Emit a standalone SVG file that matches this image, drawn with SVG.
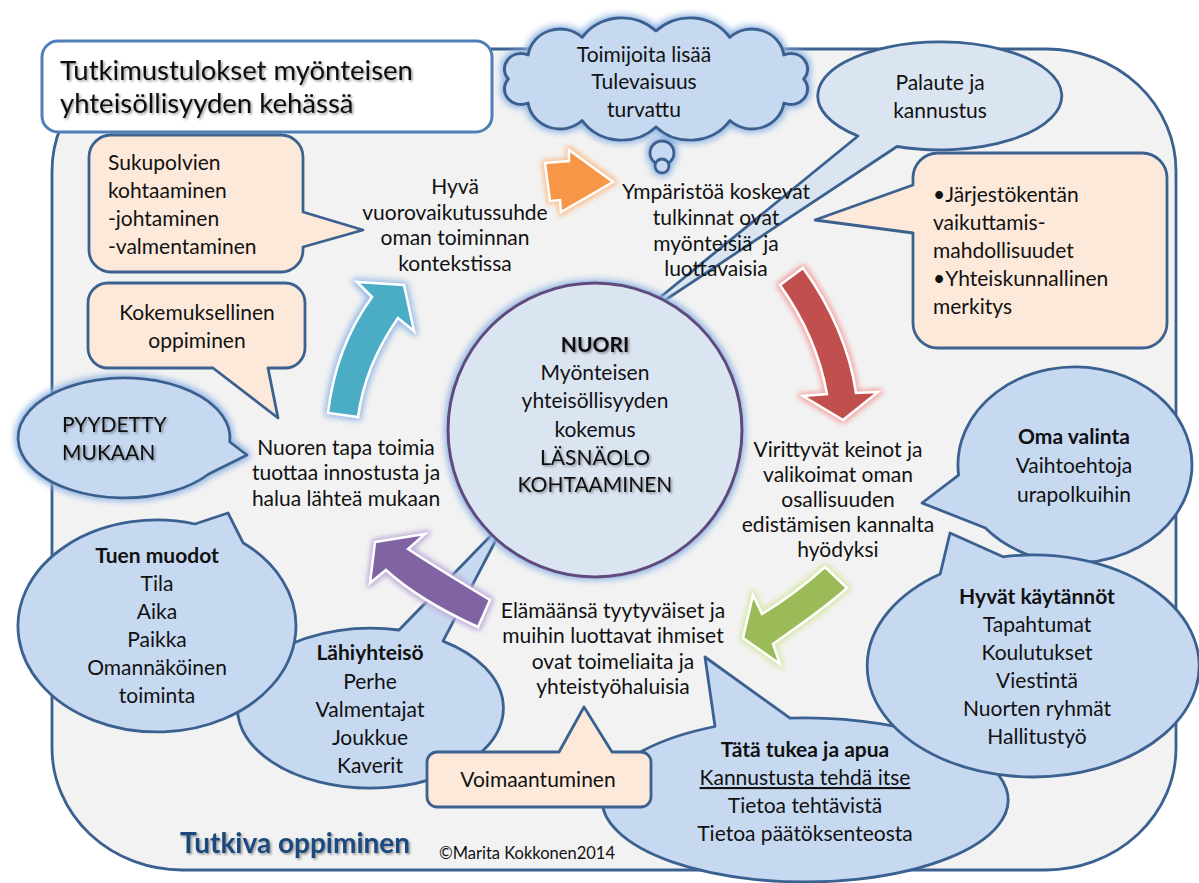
<svg xmlns="http://www.w3.org/2000/svg" width="1199" height="883" viewBox="0 0 1199 883">
<defs>
<style>
.t{font-family:Lato,"Open Sans","Liberation Sans",sans-serif;font-size:21px;fill:#111}
.c{text-anchor:middle}
.b{font-weight:bold}
.ol{stroke:#3b6190;stroke-width:2.8;stroke-linejoin:round}
.peach{fill:#fde9d9}
.blue{fill:#c6d9f1}
.pale{fill:#dbe5f1}
.arr{stroke:#fff;stroke-width:2.5;stroke-linejoin:miter}
</style>
<filter id="gBlue" x="-20%" y="-20%" width="140%" height="140%">
<feMorphology in="SourceAlpha" operator="dilate" radius="2" result="d"/>
<feGaussianBlur in="d" stdDeviation="3" result="bl"/>
<feFlood flood-color="#8db3e2" flood-opacity="0.95"/>
<feComposite in2="bl" operator="in" result="g"/>
<feMerge><feMergeNode in="g"/><feMergeNode in="SourceGraphic"/></feMerge>
</filter>
<filter id="gOrange" x="-30%" y="-30%" width="160%" height="160%">
<feMorphology in="SourceAlpha" operator="dilate" radius="2" result="d"/>
<feGaussianBlur in="d" stdDeviation="2.5" result="bl"/>
<feFlood flood-color="#fac090"/>
<feComposite in2="bl" operator="in" result="g"/>
<feMerge><feMergeNode in="g"/><feMergeNode in="SourceGraphic"/></feMerge>
</filter>
<filter id="gRed" x="-30%" y="-30%" width="160%" height="160%">
<feMorphology in="SourceAlpha" operator="dilate" radius="2" result="d"/>
<feGaussianBlur in="d" stdDeviation="2.5" result="bl"/>
<feFlood flood-color="#f2a8a6"/>
<feComposite in2="bl" operator="in" result="g"/>
<feMerge><feMergeNode in="g"/><feMergeNode in="SourceGraphic"/></feMerge>
</filter>
<filter id="gPurple" x="-30%" y="-30%" width="160%" height="160%">
<feMorphology in="SourceAlpha" operator="dilate" radius="2" result="d"/>
<feGaussianBlur in="d" stdDeviation="2.5" result="bl"/>
<feFlood flood-color="#c0aedb"/>
<feComposite in2="bl" operator="in" result="g"/>
<feMerge><feMergeNode in="g"/><feMergeNode in="SourceGraphic"/></feMerge>
</filter>
<filter id="gGreen" x="-30%" y="-30%" width="160%" height="160%">
<feMorphology in="SourceAlpha" operator="dilate" radius="2" result="d"/>
<feGaussianBlur in="d" stdDeviation="2.5" result="bl"/>
<feFlood flood-color="#d7e8a8"/>
<feComposite in2="bl" operator="in" result="g"/>
<feMerge><feMergeNode in="g"/><feMergeNode in="SourceGraphic"/></feMerge>
</filter>
<filter id="sh" x="-10%" y="-30%" width="120%" height="160%">
<feDropShadow dx="1.5" dy="1.5" stdDeviation="1" flood-color="#000" flood-opacity="0.4"/>
</filter>
</defs>

<rect width="1199" height="883" fill="#fff"/>

<g id="background">
<rect x="52" y="49" width="1124" height="821" rx="130" ry="122" fill="#f2f2f2" class="ol"/>
</g>

<g id="title">
<rect x="42" y="41" width="450" height="91" rx="16" fill="#fff" stroke="#4f7fb8" stroke-width="3"/>
<text class="t" style="font-size:27.5px" filter="url(#sh)"><tspan x="60" y="80">Tutkimustulokset myönteisen</tspan><tspan x="60" y="113">yhteisöllisyyden kehässä</tspan></text>
</g>

<g id="palaute">
<path class="ol pale" d="M858,136 L620,330 L897,146.5 A122,54 0 1 0 858,136 Z"/>
<text class="t c"><tspan x="940" y="90">Palaute ja</tspan><tspan x="940" y="118">kannustus</tspan></text>
</g>

<g id="cloud" filter="url(#gBlue)">
<path class="ol blue" transform="translate(656,0) scale(1.07,1) translate(-656,0)" d="M518,79 A15.5,15.5 0 0 1 536.5,55 A30,30 0 0 1 587,37.4 A45,45 0 0 1 656,31 A45,45 0 0 1 725,37.4 A30,30 0 0 1 775.5,55 A15.5,15.5 0 0 1 794,79 A15.5,15.5 0 0 1 775.5,103 A30,30 0 0 1 725,120.6 A45,45 0 0 1 656,127 A45,45 0 0 1 587,120.6 A30,30 0 0 1 536.5,103 A15.5,15.5 0 0 1 518,79 Z"/>
<circle class="ol blue" cx="662" cy="153" r="12"/>
<circle class="ol blue" cx="662" cy="166" r="7"/>
</g>
<g id="cloud-text">
<text class="t c"><tspan x="644" y="62">Toimijoita lisää</tspan><tspan x="644" y="89">Tulevaisuus</tspan><tspan x="644" y="117">turvattu</tspan></text>
</g>

<g id="jarjesto">
<path class="ol peach" d="M938,153 H1142 A25,25 0 0 1 1167,178 V323 A25,25 0 0 1 1142,348 H938 A25,25 0 0 1 913,323 V233 L815,220 L913,185 V178 A25,25 0 0 1 938,153 Z"/>
<text class="t"><tspan x="933" y="202">•Järjestökentän</tspan><tspan x="933" y="230">vaikuttamis-</tspan><tspan x="933" y="258">mahdollisuudet</tspan><tspan x="933" y="286">•Yhteiskunnallinen</tspan><tspan x="933" y="314">merkitys</tspan></text>
</g>

<g id="sukupolvien">
<path class="ol peach" d="M111,135 H281 A22,22 0 0 1 303,157 V212 L363,230 L303,247 V250 A22,22 0 0 1 281,272 H111 A22,22 0 0 1 89,250 V157 A22,22 0 0 1 111,135 Z"/>
<text class="t"><tspan x="108" y="170">Sukupolvien</tspan><tspan x="108" y="198">kohtaaminen</tspan><tspan x="108" y="226">-johtaminen</tspan><tspan x="108" y="254">-valmentaminen</tspan></text>
</g>

<g id="kokemuksellinen">
<path class="ol peach" d="M108,283 H285 A20,20 0 0 1 305,303 V348 A20,20 0 0 1 285,368 H268 L278,418 L213,368 H108 A20,20 0 0 1 88,348 V303 A20,20 0 0 1 108,283 Z"/>
<text class="t c"><tspan x="197" y="320">Kokemuksellinen</tspan><tspan x="197" y="348">oppiminen</tspan></text>
</g>

<g id="pyydetty">
<path class="ol blue" filter="url(#gBlue)" d="M229.8,442 L247,455 L208.8,474 A106,60 0 1 1 229.8,442 Z"/>
<text class="t" filter="url(#sh)"><tspan x="62" y="432">PYYDETTY</tspan><tspan x="62" y="460">MUKAAN</tspan></text>
</g>

<g id="lahiyhteiso">
<path class="ol blue" d="M399,630 L507,519 L443,641.1 A133,80 0 1 1 399,630 Z"/>
<text class="t c"><tspan x="370" y="660" class="b">Lähiyhteisö</tspan><tspan x="370" y="689">Perhe</tspan><tspan x="370" y="717">Valmentajat</tspan><tspan x="370" y="745">Joukkue</tspan><tspan x="370" y="773">Kaverit</tspan></text>
</g>

<g id="tuen-muodot">
<path class="ol blue" d="M195,524 L228,513 L243,542.7 A139,106 0 1 1 195,524 Z"/>
<text class="t c"><tspan x="157" y="563" class="b">Tuen muodot</tspan><tspan x="157" y="591">Tila</tspan><tspan x="157" y="619">Aika</tspan><tspan x="157" y="647">Paikka</tspan><tspan x="157" y="675">Omannäköinen</tspan><tspan x="157" y="703">toiminta</tspan></text>
</g>

<g id="nuori">
<circle cx="595" cy="430" r="147" fill="#dbe5f1" stroke="#604a7b" stroke-width="3" filter="url(#gBlue)"/>
<text class="t c"><tspan x="595" y="352" class="b" filter="url(#sh)">NUORI</tspan><tspan x="595" y="380">Myönteisen</tspan><tspan x="595" y="408">yhteisöllisyyden</tspan><tspan x="595" y="437">kokemus</tspan></text>
<text class="t c" filter="url(#sh)"><tspan x="595" y="465">LÄSNÄOLO</tspan><tspan x="595" y="492">KOHTAAMINEN</tspan></text>
</g>

<g id="oma-valinta">
<path class="ol blue" d="M958.6,475.2 L922,503 L985.4,528 A117,98 0 1 0 958.6,475.2 Z"/>
<text class="t c"><tspan x="1074" y="444" class="b">Oma valinta</tspan><tspan x="1074" y="473">Vaihtoehtoja</tspan><tspan x="1074" y="502">urapolkuihin</tspan></text>
</g>

<g id="tata-tukea">
<path class="ol blue" d="M715,726.5 L705,657 L790,718.2 A203,82 0 1 1 715,726.5 Z"/>
<text class="t c"><tspan x="805" y="757" class="b">Tätä tukea ja apua</tspan><tspan x="805" y="785" text-decoration="underline">Kannustusta tehdä itse</tspan><tspan x="805" y="813">Tietoa tehtävistä</tspan><tspan x="805" y="841">Tietoa päätöksenteosta</tspan></text>
</g>

<g id="hyvat-kaytannot">
<path class="ol blue" d="M940.2,574 L950,533 L1003,556.8 A166,111 0 1 1 940.2,574 Z"/>
<text class="t c"><tspan x="1037" y="604" class="b">Hyvät käytännöt</tspan><tspan x="1037" y="632">Tapahtumat</tspan><tspan x="1037" y="660">Koulutukset</tspan><tspan x="1037" y="688">Viestintä</tspan><tspan x="1037" y="716">Nuorten ryhmät</tspan><tspan x="1037" y="744">Hallitustyö</tspan></text>
</g>

<g id="voimaantuminen">
<path class="ol peach" d="M437,752 H559 L584,707 L612,752 H641 A10,10 0 0 1 651,762 V797 A10,10 0 0 1 641,807 H437 A10,10 0 0 1 427,797 V762 A10,10 0 0 1 437,752 Z"/>
<text class="t c" x="538" y="787">Voimaantuminen</text>
</g>

<g id="connectors">
<path class="arr" fill="#f79646" filter="url(#gOrange)" d="M545,163 L569,161 L569,150 L613,182 L561,212 L560,200 L550,201 Z"/>
<path class="arr" fill="#c0504d" filter="url(#gRed)" d="M780,285 L803,268 C830,305 850,350 856,393 L878,392 L843,420 L803,396 L827,394 C820,355 805,320 780,285 Z"/>
<path class="arr" fill="#9bbb59" filter="url(#gGreen)" d="M825,567 L847,588 C820,612 795,628 773,644 L780,664 L743,638 L753,595 L762,614 C785,600 805,585 825,567 Z"/>
<path class="arr" fill="#8064a2" filter="url(#gPurple)" d="M375,542 L425,534 L408,549 C440,570 465,585 490,600 L478,627 C445,612 410,592 386,570 L370,583 Z"/>
<path class="arr" fill="#4bacc6" filter="url(#gBlue)" d="M328,413 C333,370 348,330 372,297 L357,282 L404,285 L414,331 L398,318 C377,348 363,380 358,417 Z"/>
</g>

<g id="labels">
<text class="t c"><tspan x="455" y="194">Hyvä</tspan><tspan x="455" y="220">vuorovaikutussuhde</tspan><tspan x="455" y="245">oman toiminnan</tspan><tspan x="455" y="271">kontekstissa</tspan></text>
<text class="t c"><tspan x="716" y="199">Ympäristöä koskevat</tspan><tspan x="716" y="225">tulkinnat ovat</tspan><tspan x="716" y="251">myönteisiä&#160; ja</tspan><tspan x="716" y="276">luottavaisia</tspan></text>
<text class="t c"><tspan x="838" y="457">Virittyvät keinot ja</tspan><tspan x="838" y="482">valikoimat oman</tspan><tspan x="838" y="507">osallisuuden</tspan><tspan x="838" y="532">edistämisen kannalta</tspan><tspan x="838" y="557">hyödyksi</tspan></text>
<text class="t c"><tspan x="613" y="618">Elämäänsä tyytyväiset ja</tspan><tspan x="613" y="643">muihin luottavat ihmiset</tspan><tspan x="613" y="669">ovat toimeliaita ja</tspan><tspan x="613" y="694">yhteistyöhaluisia</tspan></text>
<text class="t c"><tspan x="346" y="455">Nuoren tapa toimia</tspan><tspan x="346" y="480">tuottaa innostusta ja</tspan><tspan x="346" y="506">halua lähteä mukaan</tspan></text>
<text class="t b" x="180" y="853" style="font-size:28px;fill:#1f497d" filter="url(#sh)">Tutkiva oppiminen</text>
<text class="t" x="439" y="859" style="font-size:16.5px">©Marita Kokkonen2014</text>
</g>
</svg>
